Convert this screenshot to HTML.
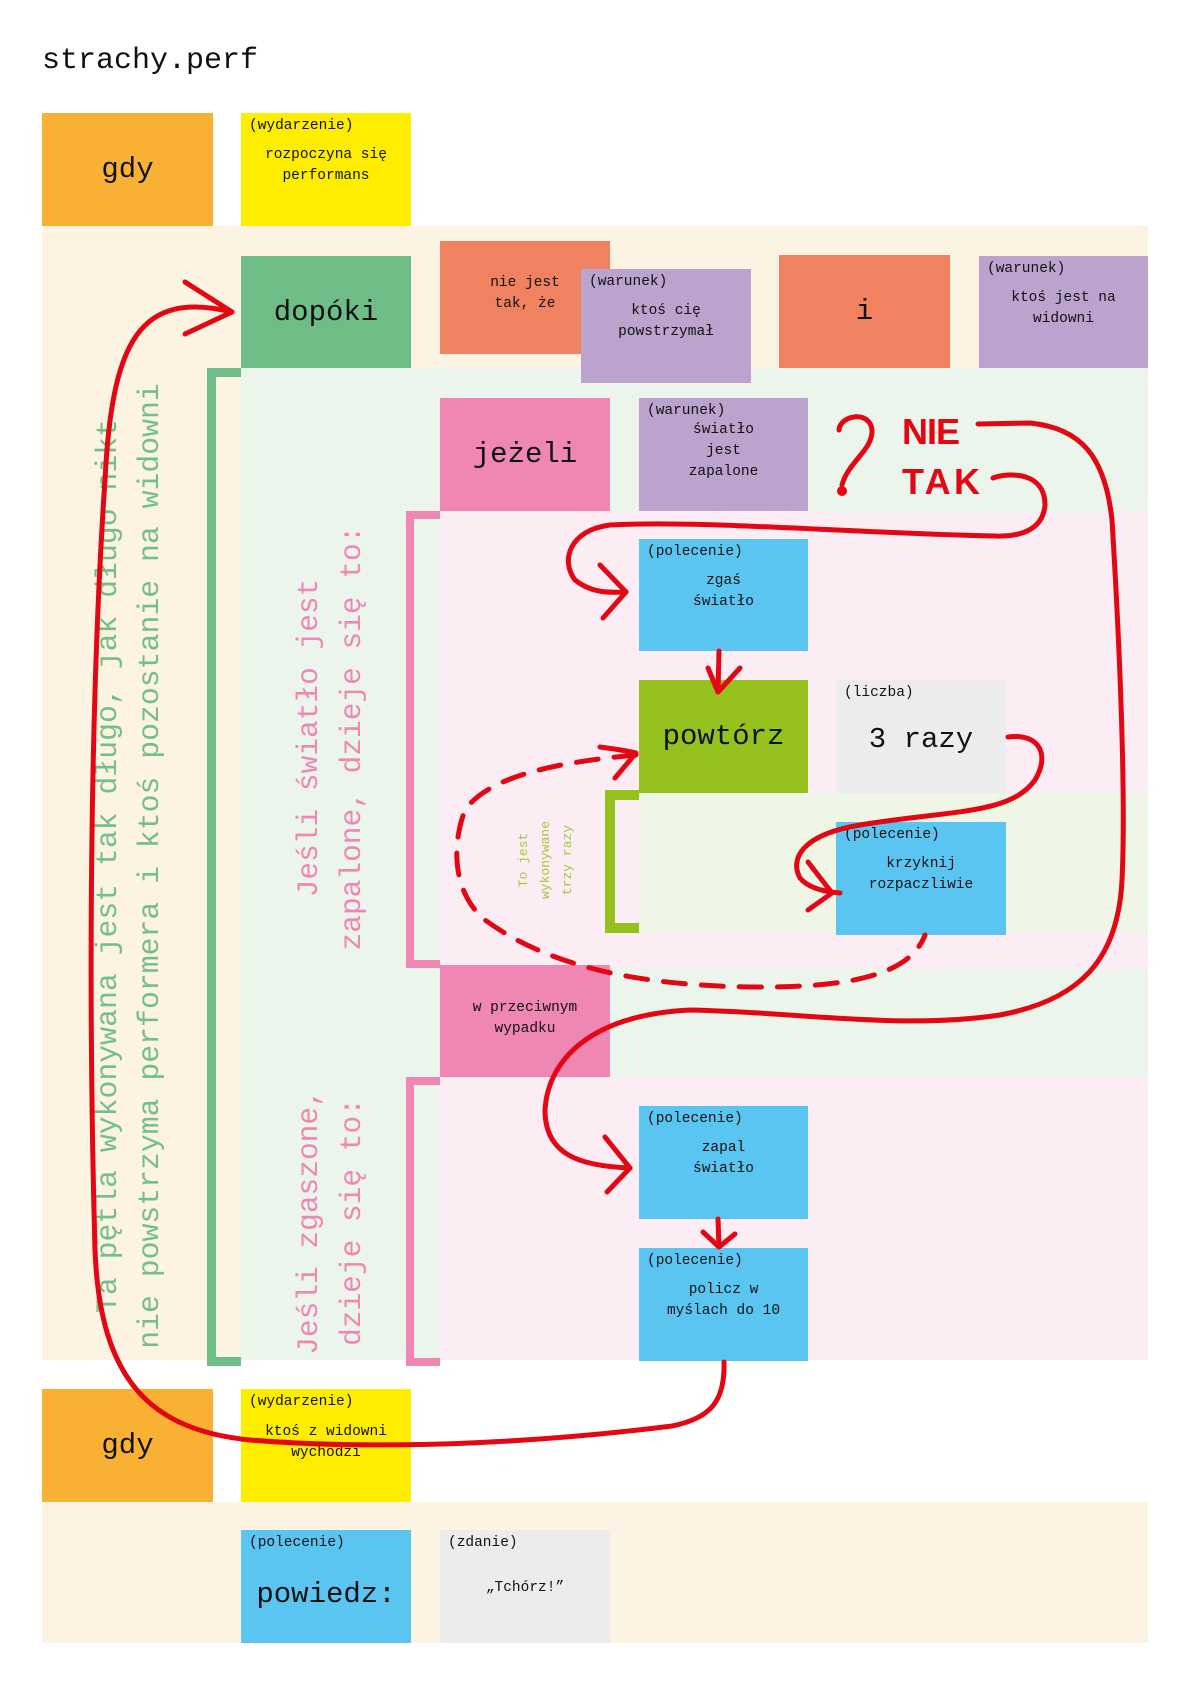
<!DOCTYPE html>
<html><head><meta charset="utf-8">
<style>
*{margin:0;padding:0;box-sizing:border-box}
body{width:1190px;height:1684px;background:#fff;position:relative;overflow:hidden;font-family:"Liberation Mono","DejaVu Sans Mono",monospace;color:#111}
.r{position:absolute}
.b{position:absolute}
.t{position:absolute;left:8px;top:5px;font-size:14.5px}
.c{position:absolute;left:0;right:0;text-align:center;font-size:14.5px;line-height:21px}
.big{position:absolute;left:0;right:0;top:0;bottom:0;display:flex;align-items:center;justify-content:center;font-size:29px}
.rot{position:absolute;transform-origin:0 0;transform:rotate(-90deg);text-align:center;white-space:pre}
</style></head><body>
<div class="r" style="left:42px;top:44px;font-size:30px">strachy.perf</div>

<!-- backgrounds -->
<div class="r" style="left:42px;top:226px;width:1106px;height:1134px;background:#fdf3e3"></div>
<div class="r" style="left:241px;top:368px;width:907px;height:992px;background:#ecf5ec"></div>
<div class="r" style="left:440px;top:511px;width:708px;height:457px;background:#fcedf4"></div>
<div class="r" style="left:639px;top:793px;width:509px;height:140px;background:#f0f6e5"></div>
<div class="r" style="left:440px;top:1077px;width:708px;height:283px;background:#fcedf4"></div>
<div class="r" style="left:42px;top:1502px;width:1106px;height:141px;background:#fdf3e3"></div>

<!-- brackets -->
<div class="r" style="left:207px;top:368px;width:34px;height:998px;border:9px solid #6fbd86;border-right:none;background:transparent"></div>
<div class="r" style="left:406px;top:511px;width:34px;height:457px;border:8px solid #f086b4;border-right:none"></div>
<div class="r" style="left:406px;top:1077px;width:34px;height:289px;border:8px solid #f086b4;border-right:none"></div>
<div class="r" style="left:605px;top:790px;width:34px;height:143px;border:10px solid #95c11f;border-right:none"></div>

<!-- boxes -->
<div class="b" style="left:42px;top:113px;width:171px;height:113px;background:#f8b133"><div class="big">gdy</div></div>
<div class="b" style="left:241px;top:113px;width:170px;height:113px;background:#ffed00"><div class="t">(wydarzenie)</div><div class="c" style="top:32px">rozpoczyna się<br>performans</div></div>

<div class="b" style="left:241px;top:256px;width:170px;height:112px;background:#6fbd86"><div class="big">dopóki</div></div>
<div class="b" style="left:440px;top:241px;width:170px;height:113px;background:#f08262"><div class="c" style="top:32px">nie jest<br>tak, że</div></div>
<div class="b" style="left:581px;top:269px;width:170px;height:114px;background:#bba3cd"><div class="t">(warunek)</div><div class="c" style="top:32px">ktoś cię<br>powstrzymał</div></div>
<div class="b" style="left:779px;top:255px;width:171px;height:113px;background:#f08262"><div class="big">i</div></div>
<div class="b" style="left:979px;top:256px;width:169px;height:112px;background:#bba3cd"><div class="t">(warunek)</div><div class="c" style="top:32px">ktoś jest na<br>widowni</div></div>

<div class="b" style="left:440px;top:398px;width:170px;height:113px;background:#f086b4"><div class="big">jeżeli</div></div>
<div class="b" style="left:639px;top:398px;width:169px;height:113px;background:#bba3cd"><div class="t">(warunek)</div><div class="c" style="top:22px">światło<br>jest<br>zapalone</div></div>

<div class="b" style="left:639px;top:539px;width:169px;height:112px;background:#5bc5f2"><div class="t">(polecenie)</div><div class="c" style="top:32px">zgaś<br>światło</div></div>
<div class="b" style="left:639px;top:680px;width:169px;height:113px;background:#95c11f"><div class="big">powtórz</div></div>
<div class="b" style="left:836px;top:680px;width:170px;height:113px;background:#ececec"><div class="t">(liczba)</div><div class="big" style="top:6px">3 razy</div></div>
<div class="b" style="left:836px;top:822px;width:170px;height:113px;background:#5bc5f2"><div class="t">(polecenie)</div><div class="c" style="top:32px">krzyknij<br>rozpaczliwie</div></div>

<div class="b" style="left:440px;top:965px;width:170px;height:112px;background:#f086b4"><div class="c" style="top:33px">w przeciwnym<br>wypadku</div></div>

<div class="b" style="left:639px;top:1106px;width:169px;height:113px;background:#5bc5f2"><div class="t">(polecenie)</div><div class="c" style="top:32px">zapal<br>światło</div></div>
<div class="b" style="left:639px;top:1248px;width:169px;height:113px;background:#5bc5f2"><div class="t">(polecenie)</div><div class="c" style="top:32px">policz w<br>myślach do 10</div></div>

<div class="b" style="left:42px;top:1389px;width:171px;height:113px;background:#f8b133"><div class="big">gdy</div></div>
<div class="b" style="left:241px;top:1389px;width:170px;height:113px;background:#ffed00"><div class="t">(wydarzenie)</div><div class="c" style="top:33px">ktoś z widowni<br>wychodzi</div></div>

<div class="b" style="left:241px;top:1530px;width:170px;height:113px;background:#5bc5f2"><div class="t">(polecenie)</div><div class="big" style="top:16px">powiedz:</div></div>
<div class="b" style="left:440px;top:1530px;width:170px;height:113px;background:#ececec"><div class="t">(zdanie)</div><div class="c" style="top:48px">„Tchórz!”</div></div>

<!-- rotated texts -->
<div class="rot" style="left:87px;top:1366px;width:1000px;font-size:29.8px;line-height:42px;color:#72bf87">Ta pętla wykonywana jest tak długo, jak długo nikt
nie powstrzyma performera i ktoś pozostanie na widowni</div>
<div class="rot" style="left:288px;top:988px;width:500px;font-size:29.5px;line-height:43px;color:#ef86b4">Jeśli światło jest
zapalone, dzieje się to:</div>
<div class="rot" style="left:288px;top:1355px;width:266px;font-size:29.5px;line-height:43px;color:#ef86b4">Jeśli zgaszone,
dzieje się to:</div>
<div class="rot" style="left:513px;top:940px;width:160px;font-size:13px;line-height:22px;color:#a3c83a">To jest
wykonywane
trzy razy</div>

<!-- red strokes -->
<svg class="r" style="left:0;top:0" width="1190" height="1684" viewBox="0 0 1190 1684">
<g fill="none" stroke="#e30613" stroke-width="5" stroke-linecap="round" stroke-linejoin="round">
<path d="M724 1362 C725 1400 712 1418 672 1426 C560 1440 400 1452 250 1440 C150 1430 100 1380 95 1250 C88 1000 90 700 105 480 C112 340 140 290 232 312"/>
<path d="M185 282 L232 312 L185 334"/>
<path d="M978 424 L1030 423 C1080 428 1105 455 1112 520 C1120 650 1126 800 1122 880 C1118 960 1080 1000 1000 1015 C900 1030 800 1012 690 1010 C590 1015 548 1060 545 1110 C545 1155 580 1166 630 1168"/>
<path d="M605 1137 L630 1168 L607 1192"/>
<path d="M993 478 C1010 472 1045 472 1045 505 C1043 530 1020 537 995 536 C850 533 700 520 610 525 C570 530 560 560 575 580 C590 592 605 593 626 592"/>
<path d="M600 565 L626 592 L603 618"/>
<path d="M719 651 L718 692 M708 668 L718 692 L740 668"/>
<path d="M1008 737 C1040 733 1050 755 1035 780 C1010 815 950 810 860 825 C800 835 790 860 800 878 C810 890 830 892 840 893"/>
<path d="M808 862 L832 893 L808 910"/>
<path d="M718 1219 L719 1247 M703 1232 L719 1247 L735 1234"/>
<path d="M636 755 C560 762 490 775 465 810 C450 850 455 895 485 920 C540 960 620 985 750 987 C850 988 910 975 925 935" stroke-dasharray="22 16"/>
<path d="M600 747 C615 749 628 751 636 753 L615 778"/>
<path d="M839 430 C840 415 870 410 872 430 C873 450 848 462 842 485"/>
</g>
<circle cx="842" cy="491" r="5" fill="#e30613"/>
<text x="902" y="444" font-family="Liberation Sans, sans-serif" font-weight="bold" font-size="36" fill="#e30613" textLength="58">NIE</text>
<text x="902" y="494" font-family="Liberation Sans, sans-serif" font-weight="bold" font-size="36" fill="#e30613" textLength="78">TAK</text>
</svg>
</body></html>
